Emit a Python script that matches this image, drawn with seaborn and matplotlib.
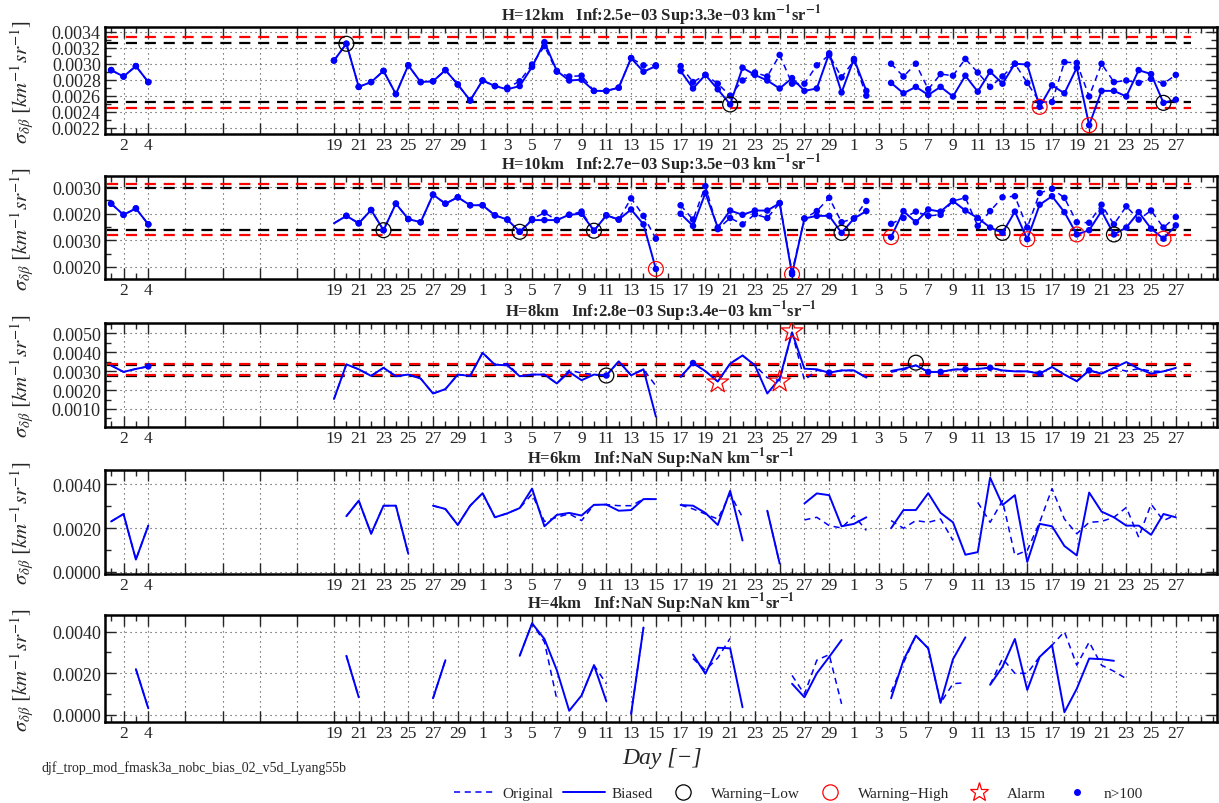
import numpy as np
import pandas as pd
import matplotlib
matplotlib.use("Agg")
import matplotlib.pyplot as plt
import seaborn as sns
from matplotlib.lines import Line2D
from matplotlib.ticker import FixedLocator, FixedFormatter

sns.set_theme(style="ticks")
plt.rcParams["font.family"] = ["Liberation Serif", "DejaVu Serif"]
plt.rcParams["mathtext.fontset"] = "stix"

N = np.nan
# ---------------- x axis (day index) ----------------
head_idx = [1, 2, 3, 4]
tail_idx = list(range(19, 88))
tick_pos = [2, 4] + list(range(19, 88, 2))
tick_labels = ["2", "4", "19", "21", "23", "25", "27", "29",
               "1", "3", "5", "7", "9", "11", "13", "15", "17", "19", "21", "23", "25", "27", "29",
               "1", "3", "5", "7", "9", "11", "13", "15", "17", "19", "21", "23", "25", "27"]
gap_ticks = [7, 10, 13, 16]

# ---------------- H=12km ----------------
h12_biased_head = [0.00292, 0.00284, 0.00297, 0.00277]
h12_original_head = [0.00292, 0.00284, 0.00297, 0.00277]
h12_biased = [0.00304, 0.00325, 0.00271, 0.00277, 0.00291, 0.00262, 0.00298, 0.00277, 0.00278, 0.00292,
              0.00274, 0.00254, 0.00279, 0.00272, 0.00268, 0.00272, 0.00296, 0.00327, 0.00291, 0.00279,
              0.00280, 0.00266, 0.00266, 0.00270, 0.00307, 0.00290, 0.00297, N, 0.00291, 0.00269,
              0.00286, 0.00268, 0.00249, 0.00295, 0.00286, 0.00279, 0.00269, 0.00282, 0.00266, 0.00269,
              0.00313, 0.00264, 0.00306, 0.00266, N, 0.00276, 0.00263, 0.00271, 0.00261, 0.00271,
              0.00259, 0.00285, 0.00265, 0.00290, 0.00275, 0.00300, 0.00299, 0.00246, 0.00273, 0.00263,
              0.00295, 0.00223, 0.00266, 0.00266, 0.00259, 0.00292, 0.00287, 0.00251, 0.00255]
h12_original = [0.00304, 0.00325, 0.00271, 0.00277, 0.00291, 0.00262, 0.00298, 0.00277, 0.00278, 0.00292,
                0.00274, 0.00254, 0.00279, 0.00272, 0.00270, 0.00278, 0.00299, 0.00322, 0.00290, 0.00284,
                0.00285, 0.00266, 0.00266, 0.00270, 0.00307, 0.00298, 0.00298, N, 0.00297, 0.00277,
                0.00286, 0.00275, 0.00260, 0.00279, 0.00289, 0.00284, 0.00311, 0.00275, 0.00275, 0.00298,
                0.00311, 0.00283, 0.00304, 0.00260, N, 0.00300, 0.00284, 0.00300, 0.00268, 0.00287,
                0.00285, 0.00306, 0.00289, 0.00271, 0.00284, 0.00300, 0.00276, 0.00252, 0.00252, 0.00302,
                0.00301, 0.00259, 0.00300, 0.00277, 0.00279, 0.00276, 0.00281, 0.00275, 0.00286]
h12_warn_low_x = [20, 51, 86]
h12_warn_low_y = [0.00325, 0.00249, 0.00251]
h12_warn_high_x = [76, 80]
h12_warn_high_y = [0.00246, 0.00223]
h12_red_levels = [0.00333, 0.00244]
h12_black_levels = [0.003265, 0.00252]

# ---------------- H=10km ----------------
h10_biased_head = [0.00319, 0.00298, 0.00310, 0.00280]
h10_original_head = [0.00319, 0.00298, 0.00310, 0.00280]
h10_biased = [0.00282, 0.00296, 0.00282, 0.00307, 0.00269, 0.00319, 0.00290, 0.00284, 0.00336, 0.00319,
              0.00331, 0.00316, 0.00316, 0.00297, 0.00289, 0.00266, 0.00288, 0.00288, 0.00288, 0.00298,
              0.00300, 0.00268, 0.00297, 0.00289, 0.00308, 0.00280, 0.00196, N, 0.00300, 0.00277,
              0.00339, 0.00274, 0.00306, 0.00298, 0.00306, 0.00306, 0.00320, 0.00186, 0.00291, 0.00296,
              0.00296, 0.00264, 0.00291, 0.00305, N, 0.00256, 0.00305, 0.00284, 0.00308, 0.00304,
              0.00324, 0.00306, 0.00292, 0.00274, 0.00264, 0.00304, 0.00252, 0.00317, 0.00333, 0.00303,
              0.00261, 0.00269, 0.00305, 0.00261, 0.00274, 0.00303, 0.00272, 0.00253, 0.00278]
h10_original = [0.00282, 0.00296, 0.00282, 0.00307, 0.00269, 0.00319, 0.00290, 0.00284, 0.00336, 0.00319,
                0.00331, 0.00316, 0.00316, 0.00297, 0.00289, 0.00266, 0.00290, 0.00302, 0.00288, 0.00298,
                0.00304, 0.00268, 0.00297, 0.00289, 0.00329, 0.00296, 0.00253, N, 0.00316, 0.00289,
                0.00352, 0.00271, 0.00292, 0.00280, 0.00299, 0.00292, 0.00320, 0.00190, 0.00291, 0.00305,
                0.00330, 0.00284, 0.00291, 0.00324, N, 0.00281, 0.00292, 0.00304, 0.00296, 0.00298,
                0.00324, 0.00330, 0.00277, 0.00305, 0.00331, 0.00333, 0.00274, 0.00339, 0.00347, 0.00330,
                0.00284, 0.00283, 0.00317, 0.00280, 0.00314, 0.00289, 0.00306, 0.00274, 0.00294]
h10_warn_low_x = [23, 34, 40, 60, 73, 82]
h10_warn_low_y = [0.00269, 0.00266, 0.00268, 0.00264, 0.00264, 0.00261]
h10_warn_high_x = [45, 56, 64, 75, 79, 86]
h10_warn_high_y = [0.00196, 0.00186, 0.00256, 0.00252, 0.00261, 0.00253]
h10_red_levels = [0.00356, 0.00260]
h10_black_levels = [0.00349, 0.00269]
h10_ytick_values = [0.0020, 0.0025, 0.0030, 0.0035]
h10_ytick_labels = ["0.0020", "0.0030", "0.0020", "0.0030"]

# ---------------- H=8km ----------------
h8_biased_head = [0.00330, 0.00296, 0.00312, 0.00325]
h8_original_head = [0.00330, 0.00296, 0.00312, 0.00325]
h8_biased = [0.00153, 0.00336, 0.00310, 0.00275, 0.00318, 0.00273, 0.00282, 0.00261, 0.00182, 0.00205,
             0.00282, 0.00275, 0.00397, 0.00334, 0.00331, 0.00273, 0.00282, 0.00282, 0.00235, 0.00296,
             0.00252, 0.00282, 0.00277, 0.00352, 0.00278, 0.00310, 0.00060, N, 0.00270, 0.00343,
             0.00300, 0.00245, 0.00340, 0.00383, 0.00331, 0.00182, 0.00261, 0.00505, 0.00313, 0.00310,
             0.00292, 0.00304, 0.00304, 0.00266, N, 0.00301, 0.00313, 0.00331, 0.00296, 0.00296,
             0.00308, 0.00310, 0.00312, 0.00318, 0.00304, 0.00299, 0.00299, 0.00287, 0.00322, 0.00282,
             0.00247, 0.00304, 0.00287, 0.00317, 0.00348, 0.00313, 0.00287, 0.00299, 0.00317]
h8_original = [0.00153, 0.00336, 0.00310, 0.00275, 0.00318, 0.00273, 0.00282, 0.00261, 0.00182, 0.00205,
               0.00282, 0.00275, 0.00397, 0.00334, 0.00340, 0.00273, 0.00282, 0.00282, 0.00235, 0.00305,
               0.00290, 0.00282, 0.00277, 0.00352, 0.00278, 0.00310, 0.00222, N, 0.00270, 0.00343,
               0.00300, 0.00245, 0.00340, 0.00383, 0.00331, 0.00265, 0.00250, 0.00505, 0.00252, 0.00305,
               0.00292, 0.00304, 0.00304, 0.00266, N, 0.00295, 0.00307, 0.00331, 0.00296, 0.00296,
               0.00308, 0.00315, 0.00312, 0.00318, 0.00304, 0.00299, 0.00299, 0.00287, 0.00322, 0.00282,
               0.00247, 0.00304, 0.00287, 0.00317, 0.00300, 0.00313, 0.00300, 0.00299, 0.00317]
h8_dots_x = [4, 41, 48, 59, 67, 68, 70, 72, 76, 80]
h8_warn_low_x = [41, 66]
h8_warn_low_y = [0.00277, 0.00345]
h8_alarm_x = [50, 55, 56]
h8_alarm_y = [0.00240, 0.00245, 0.00510]
h8_red_levels = [0.00340, 0.00280]
h8_black_levels = [0.00333, 0.00273]

# ---------------- H=6km ----------------
h6_biased_head = [0.00230, 0.00264, 0.00056, 0.00211]
h6_original_head = [0.00230, 0.00264, 0.00056, 0.00211]
h6_biased = [N, 0.00254, 0.00325, 0.00174, 0.00302, 0.00302, 0.00083, N, 0.00302, 0.00287,
             0.00214, 0.00302, 0.00359, 0.00249, 0.00267, 0.00291, 0.00380, 0.00208, 0.00260, 0.00269,
             0.00257, 0.00306, 0.00307, 0.00279, 0.00282, 0.00332, 0.00332, N, 0.00305, 0.00302,
             0.00269, 0.00214, 0.00370, 0.00143, N, 0.00279, 0.00038, N, 0.00312, 0.00358,
             0.00350, 0.00208, 0.00219, 0.00249, N, 0.00199, 0.00282, 0.00282, 0.00359, 0.00269,
             0.00226, 0.00078, 0.00090, 0.00430, 0.00305, 0.00350, 0.00045, 0.00219, 0.00208, 0.00118,
             0.00075, 0.00362, 0.00275, 0.00249, 0.00211, 0.00211, 0.00169, 0.00264, 0.00249]
h6_original = [N, 0.00254, 0.00325, 0.00174, 0.00302, 0.00302, 0.00083, N, 0.00302, 0.00287,
               0.00214, 0.00302, 0.00359, 0.00249, 0.00267, 0.00291, 0.00355, 0.00230, 0.00249, 0.00265,
               0.00234, 0.00306, 0.00307, 0.00302, 0.00302, 0.00332, 0.00332, N, 0.00305, 0.00287,
               0.00264, 0.00241, 0.00355, 0.00249, N, 0.00279, 0.00038, N, 0.00237, 0.00249,
               0.00211, 0.00200, 0.00257, 0.00189, N, 0.00234, 0.00199, 0.00234, 0.00226, 0.00241,
               0.00143, N, 0.00317, 0.00226, 0.00325, 0.00075, 0.00098, 0.00226, 0.00380, 0.00241,
               0.00174, 0.00226, 0.00230, 0.00249, 0.00294, 0.00158, 0.00309, 0.00234, 0.00260]

# ---------------- H=4km ----------------
h4_biased_head = [N, N, 0.00220, 0.00032]
h4_original_head = [N, N, 0.00220, 0.00032]
h4_biased = [N, 0.00284, 0.00085, N, N, N, N, N, 0.00080, 0.00263,
             N, N, N, N, N, 0.00284, 0.00440, 0.00365, 0.00215, 0.00020,
             0.00094, 0.00239, 0.00066, N, 0.00005, 0.00420, N, N, N, 0.00290,
             0.00198, 0.00323, 0.00320, 0.00037, N, N, N, 0.00150, 0.00085, 0.00200,
             0.00279, 0.00360, N, N, N, 0.00080, 0.00263, 0.00381, 0.00320, 0.00058,
             0.00268, 0.00373, N, 0.00145, 0.00231, 0.00365, 0.00120, 0.00279, 0.00335, 0.00013,
             0.00126, 0.00271, 0.00268, 0.00260, N, N, N, N, N]
h4_original = [N, 0.00284, 0.00085, N, N, N, N, N, 0.00080, 0.00263,
               N, N, N, N, N, 0.00284, 0.00440, 0.00350, 0.00075, N,
               0.00094, 0.00239, 0.00150, N, 0.00005, 0.00420, N, N, N, 0.00271,
               0.00215, 0.00274, 0.00368, N, N, N, N, 0.00190, 0.00100, 0.00263,
               0.00290, 0.00053, N, N, N, 0.00110, 0.00250, 0.00381, 0.00320, 0.00058,
               0.00150, 0.00155, N, 0.00145, 0.00271, 0.00200, 0.00200, 0.00280, 0.00335, 0.00400,
               0.00239, 0.00350, 0.00239, 0.00210, 0.00174, N, N, N, N]

panels = [
    dict(title="H=12km   Inf:2.5e\u221203 Sup:3.3e\u221203",
         bh=h12_biased_head, oh=h12_original_head, b=h12_biased, o=h12_original,
         ylim=(0.00212, 0.00346), yt=list(np.arange(0.0022, 0.00341, 0.0002)), ytl=None, minor=0.0001,
         dots="all", wl=(h12_warn_low_x, h12_warn_low_y), wh=(h12_warn_high_x, h12_warn_high_y),
         al=None, red=h12_red_levels, black=h12_black_levels, box=(0.0861, 0.8321, 0.912, 0.1331)),
    dict(title="H=10km   Inf:2.7e\u221203 Sup:3.5e\u221203",
         bh=h10_biased_head, oh=h10_original_head, b=h10_biased, o=h10_original,
         ylim=(0.00177, 0.00371), yt=h10_ytick_values, ytl=h10_ytick_labels, minor=0.00025,
         dots="all19", wl=(h10_warn_low_x, h10_warn_low_y), wh=(h10_warn_high_x, h10_warn_high_y),
         al=None, red=h10_red_levels, black=h10_black_levels, box=(0.0861, 0.6517, 0.912, 0.1281)),
    dict(title="H=8km   Inf:2.8e\u221203 Sup:3.4e\u221203",
         bh=h8_biased_head, oh=h8_original_head, b=h8_biased, o=h8_original,
         ylim=(0.00005, 0.00555), yt=[0.001, 0.002, 0.003, 0.004, 0.005], ytl=None, minor=0.0005,
         dots=h8_dots_x, wl=(h8_warn_low_x, h8_warn_low_y), wh=None,
         al=(h8_alarm_x, h8_alarm_y), red=h8_red_levels, black=h8_black_levels,
         box=(0.0861, 0.4677, 0.912, 0.1294)),
    dict(title="H=6km   Inf:NaN Sup:NaN",
         bh=h6_biased_head, oh=h6_original_head, b=h6_biased, o=h6_original,
         ylim=(-0.0001, 0.00465), yt=[0.0, 0.002, 0.004], ytl=None, minor=0.001,
         dots=None, wl=None, wh=None, al=None, red=None, black=None,
         box=(0.0861, 0.2848, 0.912, 0.1294)),
    dict(title="H=4km   Inf:NaN Sup:NaN",
         bh=h4_biased_head, oh=h4_original_head, b=h4_biased, o=h4_original,
         ylim=(-0.00034, 0.0048), yt=[0.0, 0.002, 0.004], ytl=None, minor=0.001,
         dots=None, wl=None, wh=None, al=None, red=None, black=None,
         box=(0.0861, 0.1007, 0.912, 0.1331)),
]

BLUE = "#0000ff"
fig = plt.figure(figsize=(12.19, 8.04), dpi=100)

all_idx = np.array(head_idx + tail_idx, dtype=float)
minor_x = [i for i in list(range(1, 5)) + list(range(19, 91)) if i not in tick_pos]


def seg_frame(y):
    df = pd.DataFrame({"day": all_idx, "val": np.array(y, dtype=float)})
    # a new segment after each missing value and across the day gap
    df["seg"] = df["val"].isna().cumsum() + np.where(df["day"] >= 19, 1000, 0)
    return df.dropna()


for p in panels:
    ax = fig.add_axes(p["box"])
    bfull = p["bh"] + p["b"]
    ofull = p["oh"] + p["o"]
    # threshold lines
    if p["black"] is not None:
        for lvl in p["black"]:
            ax.plot([0.7, 88.2], [lvl, lvl], color="black", lw=1.6, ls=(0, (5, 3.5)), zorder=2)
        for lvl in p["red"]:
            ax.plot([0.7, 88.2], [lvl, lvl], color="#ff0000", lw=1.6, ls=(0, (5, 3.5)), zorder=2)
    dfo = seg_frame(ofull)
    dfb = seg_frame(bfull)
    sns.lineplot(data=dfo, x="day", y="val", units="seg", estimator=None, sort=False,
                 color=BLUE, lw=1.1, linestyle=(0, (4, 3)), ax=ax, legend=False, zorder=3)
    sns.lineplot(data=dfb, x="day", y="val", units="seg", estimator=None, sort=False,
                 color=BLUE, lw=1.4, ax=ax, legend=False, zorder=4)
    # n>100 dots
    if p["dots"] is not None:
        if p["dots"] == "all":
            dd = pd.concat([dfo, dfb])
        elif p["dots"] == "all19":
            dd = pd.concat([dfo, dfb])
            dd = dd[dd["day"] != 19]
        else:
            dd = dfb[dfb["day"].isin(p["dots"])]
        sns.scatterplot(data=dd, x="day", y="val", color=BLUE, s=22, edgecolor="none",
                        marker="o", ax=ax, legend=False, zorder=5)
    if p["wl"] is not None:
        sns.scatterplot(x=p["wl"][0], y=p["wl"][1], marker="o", s=115, facecolor="none",
                        edgecolor="black", linewidth=0.9, ax=ax, legend=False, zorder=6)
    if p["wh"] is not None:
        sns.scatterplot(x=p["wh"][0], y=p["wh"][1], marker="o", s=115, facecolor="none",
                        edgecolor="#ff0000", linewidth=0.9, ax=ax, legend=False, zorder=6)
    if p["al"] is not None:
        sns.scatterplot(x=p["al"][0], y=p["al"][1], marker="*", s=270, facecolor="none",
                        edgecolor="#ff0000", linewidth=0.9, ax=ax, legend=False, zorder=6)

    ax.set_xlim(0.5, 90.3)
    ax.set_ylim(*p["ylim"])
    ax.xaxis.set_major_locator(FixedLocator(tick_pos + gap_ticks))
    ax.xaxis.set_major_formatter(FixedFormatter(tick_labels + [""] * len(gap_ticks)))
    ax.xaxis.set_minor_locator(FixedLocator(minor_x))
    ax.yaxis.set_major_locator(FixedLocator(p["yt"]))
    if p["ytl"] is None:
        ax.yaxis.set_major_formatter(FixedFormatter(["%.4f" % v for v in p["yt"]]))
    else:
        ax.yaxis.set_major_formatter(FixedFormatter(p["ytl"]))
    lo, hi = p["ylim"]
    mt = np.arange(np.floor(lo / p["minor"]) * p["minor"], hi, p["minor"])
    ax.yaxis.set_minor_locator(FixedLocator(mt))
    ax.tick_params(axis="both", which="major", direction="in", length=8, width=1.0,
                   top=True, right=True, labelsize=13, pad=3)
    ax.tick_params(axis="x", which="major", labelsize=12.5, pad=2)
    ax.tick_params(axis="both", which="minor", direction="in", length=4, width=1.0,
                   top=True, right=True)
    ax.grid(True, which="major", color="0.25", ls=(0, (1, 3.5)), lw=0.8)
    for sp in ax.spines.values():
        sp.set_linewidth(1.8)
        sp.set_color("black")
    ax.set_xlabel("")
    ax.set_ylabel(r"$\sigma_{\delta\beta}\ [km^{-1}sr^{-1}]$", fontsize=15)
    ax.yaxis.set_label_coords(-0.062, 0.5)
    ax.set_title(p["title"] + r" km$^{\mathbf{-1}}$sr$^{\mathbf{-1}}$",
                 fontsize=12, fontweight="bold", pad=1.5)

fig.text(0.543, 0.057, "Day [\u2212]", fontsize=17, style="italic", ha="center", va="center")
fig.text(0.034, 0.045, "djf_trop_mod_fmask3a_nobc_bias_02_v5d_Lyang55b", fontsize=10,
         ha="left", va="center")

handles = [
    Line2D([], [], color=BLUE, lw=1.1, ls=(0, (4, 3))),
    Line2D([], [], color=BLUE, lw=1.4),
    Line2D([], [], ls="none", marker="o", ms=11, mfc="none", mec="black", mew=0.9),
    Line2D([], [], ls="none", marker="o", ms=11, mfc="none", mec="#ff0000", mew=0.9),
    Line2D([], [], ls="none", marker="*", ms=14, mfc="none", mec="#ff0000", mew=0.9),
    Line2D([], [], ls="none", marker="o", ms=4, mfc=BLUE, mec=BLUE),
]
labels = ["Original", "Biased", "Warning\u2212Low", "Warning\u2212High", "Alarm", "n>100"]
fig.legend(handles, labels, loc="center", bbox_to_anchor=(0.655, 0.012), ncol=6,
           frameon=False, fontsize=11, handlelength=2.8, columnspacing=0.6, handletextpad=0.4,
           borderpad=0.1)

fig.savefig("out.png", dpi=100)
